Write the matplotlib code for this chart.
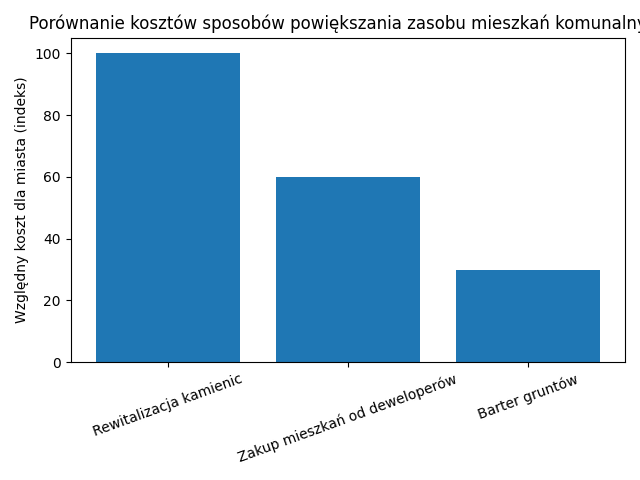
import matplotlib
matplotlib.use("Agg")
import matplotlib.pyplot as plt

methods = ["Rewitalizacja kamienic", "Zakup mieszkań od deweloperów", "Barter gruntów"]
cost_index = [100, 60, 30]

fig, ax = plt.subplots(figsize=(6.4, 4.8), dpi=100)
ax.bar(methods, cost_index, color="#1f77b4")
ax.set_ylabel("Względny koszt dla miasta (indeks)")
ax.set_title("Porównanie kosztów sposobów powiększania zasobu mieszkań komunalnych")
plt.xticks(rotation=20)
plt.tight_layout()
plt.savefig("out.png")
